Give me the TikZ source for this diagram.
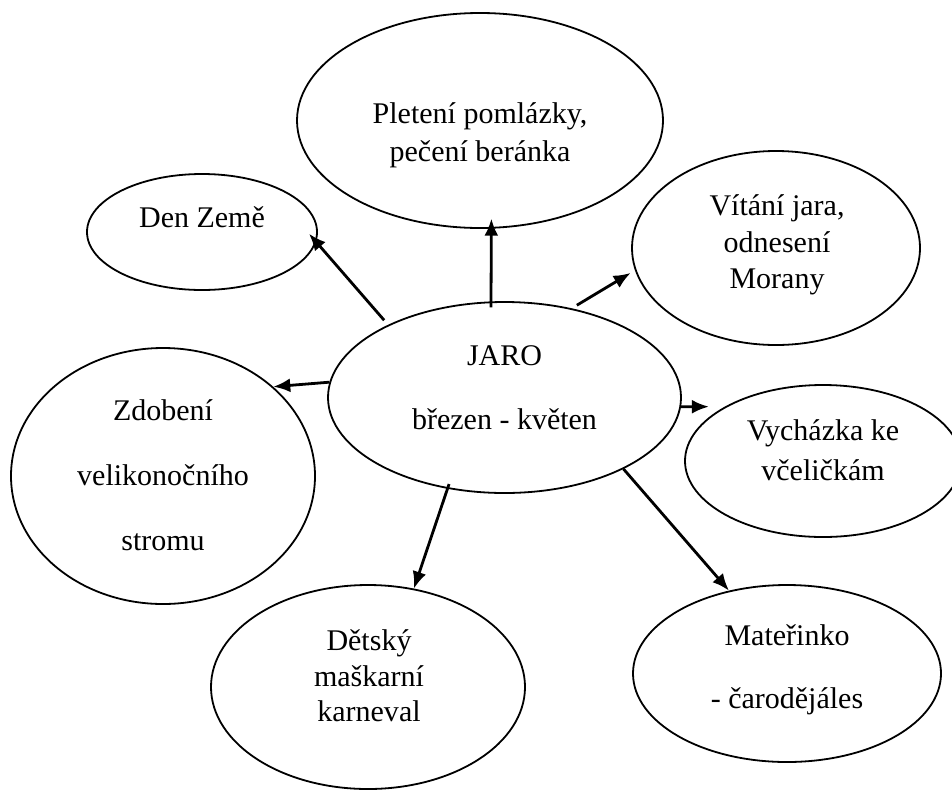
\documentclass[tikz,border=0pt]{standalone}
\usepackage{fontspec}
\setmainfont{Liberation Serif}
\usepackage{tikz}
\usetikzlibrary{arrows.meta,shapes.geometric,positioning}
\newcommand{\bodyfont}{\fontsize{30}{37}\selectfont}
\tikzset{
  bubble/.style={draw=black, line width=1.8pt, ellipse, inner sep=0pt},
  link/.style={-{Latex[length=17pt,width=14pt]}, line width=2.8pt, black},
  note/.style={font=\bodyfont, align=center, anchor=base}
}

\begin{document}
\begin{tikzpicture}[x=1pt,y=-1pt]
  \useasboundingbox[fill=white] (0,0) rectangle (952,793);
  % bubbles
  \node[bubble, minimum width=353pt, minimum height=191pt] (jaro) at (504.5,397.5) {};
  \node[bubble, minimum width=366pt, minimum height=215pt] (pomlazka) at (480,120.5) {};
  \node[bubble, minimum width=230pt, minimum height=116pt] (zeme) at (202,232) {};
  \node[bubble, minimum width=288pt, minimum height=194pt] (morana) at (776,248) {};
  \node[bubble, minimum width=304pt, minimum height=256pt] (strom) at (163,476) {};
  \node[bubble, minimum width=276pt, minimum height=152pt] (vcely) at (823,461) {};
  \node[bubble, minimum width=314pt, minimum height=204pt] (karneval) at (368,687) {};
  \node[bubble, minimum width=308pt, minimum height=177pt] (carodej) at (787,673.5) {};
  % texts (base = last line)
  \node[note] (tjaro) at (504.5,429) {JARO\\[27pt]březen - květen};
  \node[note] (tpomlazka) at (480,161) {Pletení pomlázky,\\[1pt]pečení beránka};
  \node[note] (tzeme) at (202,227) {Den Země};
  \node[note] (tmorana) at (777,288) {Vítání jara,\\odnesení\\[-1pt]Morany};
  \node[note] (tstrom) at (163,550) {Zdobení\\[28pt]velikonočního\\[28pt]stromu};
  \node[note] (tvcely) at (823,480) {Vycházka ke\\[3pt]včeličkám};
  \node[note] (tkarneval) at (369,721) {Dětský\\[-1pt]maškarní\\[-2pt]karneval};
  \node[note] (tcarodej) at (787,708) {Mateřinko\\[26pt]- čarodějáles};
  % arrows
  \draw[link, shorten <=6pt, shorten >=-11pt] (jaro.148.7) -- (zeme.-5.6);
  \draw[link, shorten <=-6pt, shorten >=-10pt] (jaro.98.6) -- (pomlazka.-84.1);
  \draw[link, shorten <=6pt, shorten >=5pt] (jaro.53.4) -- (morana.189.85);
  \draw[link] (jaro.175.9) -- (strom.39.9);
  \draw[link, shorten >=16pt] (jaro.-3.1) -- (vcely.151);
  \draw[link, shorten <=-5pt] (jaro.238.7) -- (karneval.65.6);
  \draw[link] (jaro.-31.9) -- (carodej.125.8);
\end{tikzpicture}
\end{document}
